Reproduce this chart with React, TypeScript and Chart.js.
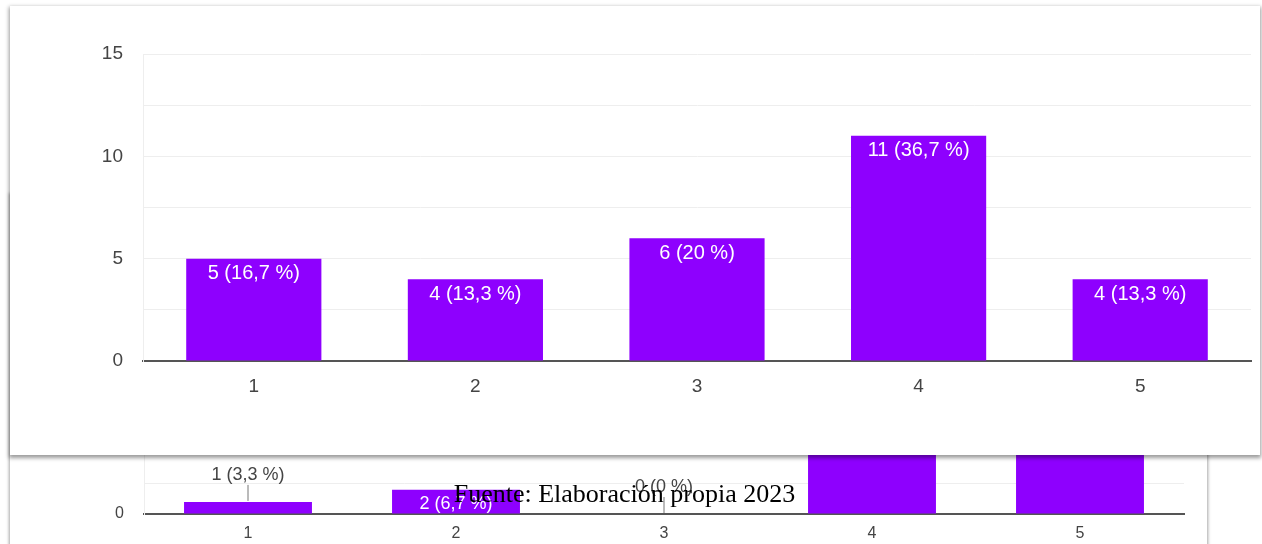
import React, { useEffect, useRef } from 'react';
import { Chart, registerables } from 'chart.js';
Chart.register(...registerables);

const categories = ['1', '2', '3', '4', '5'];
const mainValues = [5, 4, 6, 11, 4];
const lowerValues = [1, 2, 0, 14, 13];
const mainYMax = 15;
const lowerYMax = 24;
const mainLabeledTicks = [0, 5, 10, 15];
const lowerLabeledTicks = [0];
const footerText = 'Fuente: Elaboración propia 2023';

const PURPLE = '#8e00fe';
const FONT = 'Arial, "Liberation Sans", sans-serif';

function pctLabel(v: number, total: number) {
  const p = Math.round((v / total) * 1000) / 10;
  return `${v} (${String(p).replace('.', ',')} %)`;
}

function makeLabelPlugin(values: number[], fontSize: number, insideOffset: number) {
  const total = values.reduce((a, b) => a + b, 0);
  return {
    id: 'barLabels',
    afterDatasetsDraw(chart: any) {
      const ctx = chart.ctx;
      const meta = chart.getDatasetMeta(0);
      ctx.save();
      ctx.font = `${fontSize}px ${FONT}`;
      ctx.textAlign = 'center';
      ctx.textBaseline = 'middle';
      meta.data.forEach((bar: any, i: number) => {
        const v = values[i];
        const text = pctLabel(v, total);
        const h = bar.base - bar.y;
        if (h >= 20) {
          ctx.fillStyle = '#ffffff';
          ctx.fillText(text, bar.x, bar.y + insideOffset);
        } else {
          ctx.strokeStyle = '#777';
          ctx.lineWidth = 1;
          ctx.beginPath();
          ctx.moveTo(bar.x, bar.y - 1);
          ctx.lineTo(bar.x, bar.y - 17);
          ctx.stroke();
          ctx.fillStyle = '#444';
          ctx.fillText(text, bar.x, bar.y - 27);
        }
      });
      ctx.restore();
    },
  };
}

function buildConfig(
  values: number[],
  yMax: number,
  labeled: number[],
  opts: {
    padTop: number; padRight: number; yWidth: number; xHeight: number;
    tickSize: number; xPad: number; yPad: number; barPct: number; labelSize: number; insideOffset: number;
  }
): any {
  return {
    type: 'bar',
    data: {
      labels: categories,
      datasets: [{
        data: values,
        backgroundColor: PURPLE,
        borderWidth: 0,
        categoryPercentage: 1,
        barPercentage: opts.barPct,
      }],
    },
    options: {
      responsive: false,
      animation: false,
      layout: { padding: { top: opts.padTop, right: opts.padRight, left: 0, bottom: 0 } },
      plugins: { legend: { display: false }, tooltip: { enabled: false } },
      scales: {
        x: {
          grid: { display: false, drawTicks: false },
          border: { display: true, color: '#555', width: 2 },
          ticks: { color: '#444', font: { family: FONT, size: opts.tickSize }, padding: opts.xPad },
          afterFit: (a: any) => { a.height = opts.xHeight; },
        },
        y: {
          min: 0,
          max: yMax,
          grid: {
            drawTicks: false,
            lineWidth: 1,
            color: (c: any) => (c.tick && c.tick.value === 0 ? 'rgba(0,0,0,0)' : '#eeeeee'),
          },
          border: { display: true, color: '#eeeeee', width: 1 },
          ticks: {
            stepSize: 2.5,
            autoSkip: false,
            color: '#444',
            font: { family: FONT, size: opts.tickSize },
            padding: opts.yPad,
            callback: (v: any) => (labeled.includes(Number(v)) ? String(v) : ''),
          },
          afterFit: (a: any) => { a.width = opts.yWidth; },
        },
      },
    },
    plugins: [makeLabelPlugin(values, opts.labelSize, opts.insideOffset)],
  };
}

export default function App() {
  const mainRef = useRef<HTMLCanvasElement>(null);
  const lowerRef = useRef<HTMLCanvasElement>(null);

  useEffect(() => {
    const lower = new Chart(lowerRef.current as HTMLCanvasElement, buildConfig(lowerValues, lowerYMax, lowerLabeledTicks, {
      padTop: 20, padRight: 23, yWidth: 134, xHeight: 30, tickSize: 16, xPad: 10, yPad: 20,
      barPct: 0.615, labelSize: 18, insideOffset: 14,
    }));
    const main = new Chart(mainRef.current as HTMLCanvasElement, buildConfig(mainValues, mainYMax, mainLabeledTicks, {
      padTop: 48, padRight: 9, yWidth: 133, xHeight: 94, tickSize: 19, xPad: 14, yPad: 20,
      barPct: 0.61, labelSize: 20, insideOffset: 15,
    }));
    return () => { main.destroy(); lower.destroy(); };
  }, []);

  return (
    <div style={{ position: 'fixed', left: 0, top: 0, width: 1262, height: 544, overflow: 'hidden', background: '#fff' }}>
      <div style={{
        position: 'absolute', left: 10, top: 194, width: 1197, height: 400, background: '#fff',
        boxShadow: '0 0 3px 1px rgba(0,0,0,0.35)', zIndex: 1,
      }}>
        <canvas ref={lowerRef} width={1197} height={350} style={{ display: 'block' }} />
      </div>
      <div style={{
        position: 'absolute', left: 10, top: 6, width: 1250, height: 449, background: '#fff',
        boxShadow: '0 2px 4px 1px rgba(0,0,0,0.4)', zIndex: 2,
      }}>
        <canvas ref={mainRef} width={1250} height={449} style={{ display: 'block' }} />
      </div>
      <div style={{
        position: 'absolute', left: 0, top: 481, width: 1249, textAlign: 'center',
        fontFamily: '"Liberation Serif", "Times New Roman", serif', fontSize: 26, lineHeight: '26px',
        color: '#000', zIndex: 3,
      }}>{footerText}</div>
    </div>
  );
}
